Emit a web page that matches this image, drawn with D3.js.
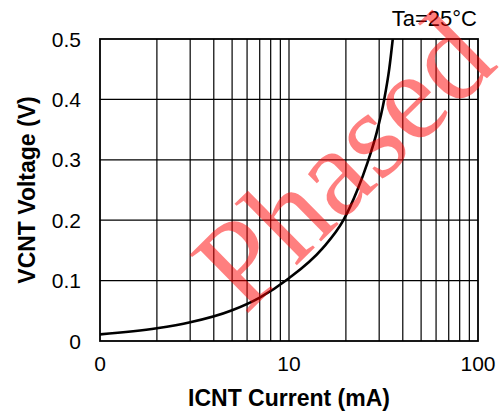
<!DOCTYPE html>
<html>
<head>
<meta charset="utf-8">
<script src="https://cdn.jsdelivr.net/npm/d3@7"></script>
<style>
    body { margin: 0; background: #fff; }
    svg { display: block; font-family: "Liberation Sans", Arial, sans-serif; }
</style>
</head>
<body>
<div id="chart"></div>
<script>
    // values
    const currents = [1, 2, 3, 5, 7, 10, 15, 19.4, 23, 26, 29.1, 31.9, 33.9, 35.4];
    const voltages = [0.011, 0.021, 0.031, 0.051, 0.072, 0.104, 0.153, 0.2, 0.25, 0.295, 0.345, 0.4, 0.45, 0.5];
    const xTicks = [1, 10, 100];
    const xTickLabels = ["0", "10", "100"];
    const yTicks = [0, 0.1, 0.2, 0.3, 0.4, 0.5];
    const xGrid = [2, 3, 4, 5, 6, 7, 8, 9, 10, 20, 30, 40, 50, 60, 70, 80, 90];
    const yGrid = [0.1, 0.2, 0.3, 0.4];

    const width = 499;
    const height = 414;
    const margin = { top: 39, right: 21, bottom: 73, left: 100 };
    const plotW = width - margin.left - margin.right;
    const plotH = height - margin.top - margin.bottom;

    const svg = d3.select("#chart")
    .append("svg")
    .attr("width", width)
    .attr("height", height);

    const x = d3.scaleLog()
    .domain([1, 100])
    .range([margin.left, margin.left + plotW]);

    const y = d3.scaleLinear()
    .domain([0, 0.5])
    .range([margin.top + plotH, margin.top]);

    svg.append("defs")
    .append("clipPath")
    .attr("id", "plot-clip")
    .append("rect")
    .attr("x", margin.left)
    .attr("y", margin.top)
    .attr("width", plotW)
    .attr("height", plotH);

    // grid
    svg.append("g")
    .selectAll("line")
    .data(xGrid)
    .enter()
    .append("line")
    .attr("x1", d => x(d))
    .attr("x2", d => x(d))
    .attr("y1", y(0))
    .attr("y2", y(0.5))
    .attr("stroke", "#000")
    .attr("stroke-width", 1.2);

    svg.append("g")
    .selectAll("line")
    .data(yGrid)
    .enter()
    .append("line")
    .attr("x1", x(1))
    .attr("x2", x(100))
    .attr("y1", d => y(d))
    .attr("y2", d => y(d))
    .attr("stroke", "#000")
    .attr("stroke-width", 1.2);

    // curve
    const line = d3.line()
    .x((d, i) => x(d))
    .y((d, i) => y(voltages[i]))
    .curve(d3.curveMonotoneX);

    svg.append("path")
    .datum(currents)
    .attr("d", line)
    .attr("fill", "none")
    .attr("stroke", "#000")
    .attr("stroke-width", 2.6)
    .attr("clip-path", "url(#plot-clip)");

    // frame
    svg.append("rect")
    .attr("x", margin.left)
    .attr("y", margin.top)
    .attr("width", plotW)
    .attr("height", plotH)
    .attr("fill", "none")
    .attr("stroke", "#000")
    .attr("stroke-width", 1.8);

    // tick labels
    svg.append("g")
    .selectAll("text")
    .data(xTicks)
    .enter()
    .append("text")
    .attr("x", d => x(d))
    .attr("y", 371)
    .attr("text-anchor", "middle")
    .style("font-size", "21px")
    .text((d, i) => xTickLabels[i]);

    svg.append("g")
    .selectAll("text")
    .data(yTicks)
    .enter()
    .append("text")
    .attr("x", 81)
    .attr("y", d => y(d) + 7.5)
    .attr("text-anchor", "end")
    .style("font-size", "21px")
    .text(d => d === 0 ? "0" : d.toFixed(1));

    // axis titles
    svg.append("text")
    .attr("x", margin.left + plotW / 2)
    .attr("y", 406)
    .attr("text-anchor", "middle")
    .style("font-size", "23px")
    .style("font-weight", "bold")
    .text("ICNT Current (mA)");

    svg.append("text")
    .attr("transform", `translate(35, ${margin.top + plotH / 2}) rotate(-90)`)
    .attr("text-anchor", "middle")
    .style("font-size", "23px")
    .style("font-weight", "bold")
    .text("VCNT Voltage (V)");

    svg.append("text")
    .attr("x", 477)
    .attr("y", 26)
    .attr("text-anchor", "end")
    .style("font-size", "22px")
    .text("Ta=25°C");

    // watermark
    svg.append("text")
    .attr("transform", "translate(245, 316) rotate(-44.5)")
    .attr("fill", "red")
    .attr("fill-opacity", 0.5)
    .style("font-family", "'Liberation Serif', 'Times New Roman', serif")
    .style("font-size", "126px")
    .text("Phased");
</script>
</body>
</html>
